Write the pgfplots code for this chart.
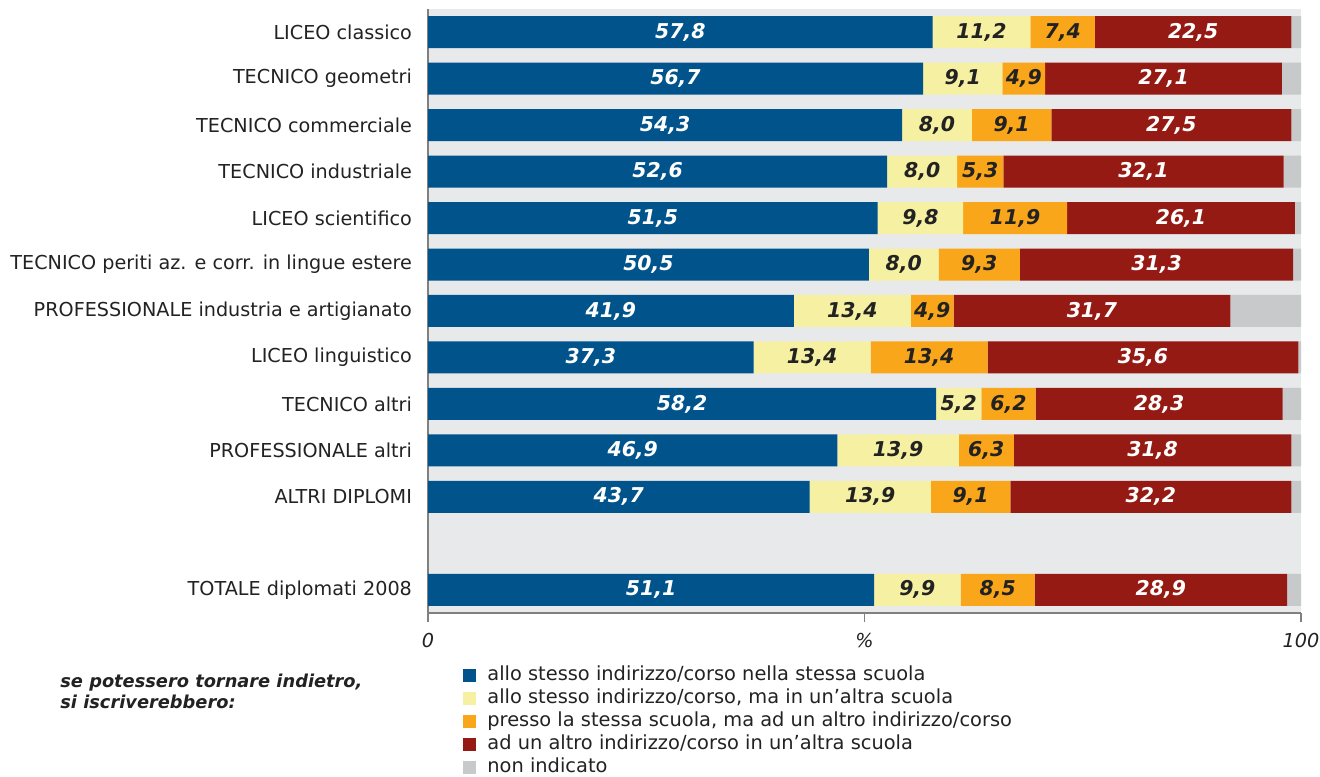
\documentclass[border=0pt]{standalone}
\usepackage{fontspec}
\setmainfont{DejaVu Sans}
\usepackage{pgfplots}
\pgfplotsset{compat=1.18}
\usepackage{pgfplotstable}

\definecolor{cblue}{HTML}{00538B}
\definecolor{cyel}{HTML}{F6F0A3}
\definecolor{corange}{HTML}{F9A61A}
\definecolor{cred}{HTML}{951A14}
\definecolor{cgray}{HTML}{C8C9CB}
\definecolor{cbg}{HTML}{E8E9EB}
\definecolor{ctext}{HTML}{222222}

\pgfplotstableread{
pos a b c d e
12 57.8 11.2 7.4 22.5 1.1
11 56.7 9.1 4.9 27.1 2.2
10 54.3 8.0 9.1 27.5 1.1
9 52.6 8.0 5.3 32.1 2.0
8 51.5 9.8 11.9 26.1 0.7
7 50.5 8.0 9.3 31.3 0.9
6 41.9 13.4 4.9 31.7 8.1
5 37.3 13.4 13.4 35.6 0.3
4 58.2 5.2 6.2 28.3 2.1
3 46.9 13.9 6.3 31.8 1.1
2 43.7 13.9 9.1 32.2 1.1
0 51.1 9.9 8.5 28.9 1.6
}\data

\pgfplotsset{
  seglabel/.style={
    nodes near coords={\pgfmathprintnumber[fixed,fixed zerofill,precision=1,use comma,assume math mode=true]{\pgfplotspointmeta}},
    point meta=explicit,
    every node near coord/.append style={anchor=center,
      font=\fontsize{10.2}{11}\selectfont\bfseries\itshape, inner sep=0pt},
  },
  sqlegend/.style={legend image code/.code={\fill[##1] (0pt,-3.25pt) rectangle (6.5pt,3.25pt);}},
}

\begin{document}
\begin{tikzpicture}[font=\fontsize{9.6}{11}\selectfont, text=ctext]
\path[use as bounding box] (0,0) rectangle (660pt,388pt);
\begin{axis}[
  at={(214pt,81.5pt)}, anchor=south west,
  width=436.5pt, height=302pt, scale only axis,
  xbar stacked, bar width=16pt,
  xmin=0, xmax=100, ymin=-0.5, ymax=12.5,
  axis background/.style={fill=cbg},
  axis lines*=left,
  axis line style={draw=gray, line width=0.8pt},
  tick align=outside, major tick length=4.5pt,
  xtick={0,50,100}, xticklabels={0,\%,100},
  xtick style={draw=gray, line width=0.8pt},
  ytick style={draw=none},
  xticklabel style={font=\fontsize{9.6}{11}\selectfont\itshape, text=ctext, yshift=-2pt},
  yticklabel style={text=ctext},
  ytick={0,2,3,4,5,6,7,8,9,10,11,12},
  yticklabels={TOTALE diplomati 2008, ALTRI DIPLOMI, PROFESSIONALE altri, TECNICO altri, LICEO linguistico, PROFESSIONALE industria e artigianato, TECNICO periti az. e corr. in lingue estere, LICEO scientifico, TECNICO industriale, TECNICO commerciale, TECNICO geometri, LICEO classico},
  sqlegend,
  legend style={at={(axis description cs:0.0401,-0.088)}, anchor=north west,
    draw=none, fill=none, inner sep=0pt, row sep=3pt, column sep=5.5pt,
    nodes={inner sep=0pt, text height=7pt, text depth=1.5pt, text=ctext},
    font=\fontsize{9.7}{11}\selectfont},
  legend cell align=left,
  clip=false,
]
\addplot[fill=cblue, draw=none, sqlegend, seglabel, nodes near coords style={text=white}] table[x=a, y=pos, meta=a] {\data};
\addlegendentry{allo stesso indirizzo/corso nella stessa scuola}
\addplot[fill=cyel, draw=none, sqlegend, seglabel, nodes near coords style={text=ctext}] table[x=b, y=pos, meta=b] {\data};
\addlegendentry{allo stesso indirizzo/corso, ma in un’altra scuola}
\addplot[fill=corange, draw=none, sqlegend, seglabel, nodes near coords style={text=ctext}] table[x=c, y=pos, meta=c] {\data};
\addlegendentry{presso la stessa scuola, ma ad un altro indirizzo/corso}
\addplot[fill=cred, draw=none, sqlegend, seglabel, nodes near coords style={text=white}] table[x=d, y=pos, meta=d] {\data};
\addlegendentry{ad un altro indirizzo/corso in un’altra scuola}
\addplot[fill=cgray, draw=none, sqlegend] table[x=e, y=pos] {\data};
\addlegendentry{non indicato}
\end{axis}
\node[anchor=base west, inner sep=0pt, font=\fontsize{8.9}{10.5}\selectfont\bfseries\itshape] at (30pt,44.5pt) {se potessero tornare indietro,};
\node[anchor=base west, inner sep=0pt, font=\fontsize{8.9}{10.5}\selectfont\bfseries\itshape] at (30pt,34pt) {si iscriverebbero:};
\end{tikzpicture}
\end{document}
